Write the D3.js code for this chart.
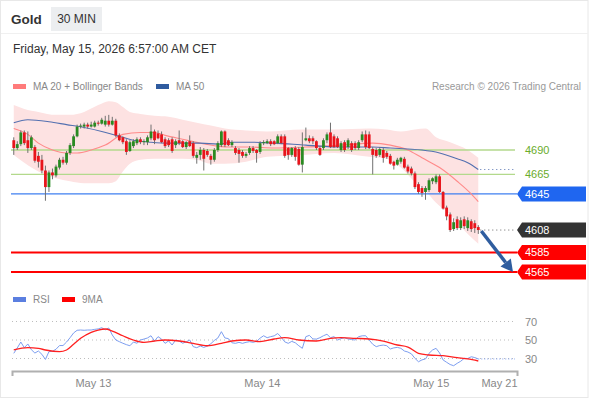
<!DOCTYPE html>
<html><head><meta charset="utf-8">
<script src="https://cdn.jsdelivr.net/npm/d3@7"></script>
<style>
html,body{margin:0;padding:0;background:#fff;}
svg{display:block;font-family:"Liberation Sans",Arial,sans-serif;}
</style></head><body>
<svg id="c" width="590" height="400"></svg>
<script>
// ---- DATA (30-min candles, slot 0 = May 12 12:30 CET) ----
const opens=[4700,4692,4696,4708,4700,4692,4693,4684,4680,4669,
4652,4667,4664,4672,4680,4677,4687,4694,4704,4714,
4714,4716,4714,4714,4718,4717,4716,4720,4716,4720,
4705,4703,4699,4689,4694,4697,4701,4698,4698,4702,
4709,4707,4706,4701,4700,4701,4695,4700,4699,4693,
4699,4697,4682,4685,4690,4689,4684,4680,4690,4695,
4709,4700,4695,4692,4690,4688,4684,4687,4692,4690,
4688,4697,4697,4699,4699,4697,4704,4704,4692,4685,
4692,4691,4675,4700,4702,4702,4699,4692,4692,4700,
4708,4704,4702,4690,4698,4693,4697,4697,4692,4700,
4706,4706,4691,4690,4685,4690,4687,4684,4678,4675,
4678,4681,4673,4671,4666,4655,4651,4647,4649,4658,
4657,4663,4647,4631,4624,4609,4619,4610,4619,4610,
4617,4615,4611];
const closes=[4692,4696,4708,4697,4692,4703,4679,4678,4669,4652,
4667,4664,4673,4680,4677,4687,4695,4704,4714,4715,
4716,4714,4716,4718,4717,4721,4720,4716,4720,4705,
4700,4698,4688,4698,4699,4701,4698,4699,4703,4709,
4700,4702,4698,4694,4695,4689,4699,4697,4693,4698,
4694,4684,4685,4690,4681,4685,4680,4690,4697,4709,
4695,4695,4698,4687,4686,4684,4686,4692,4689,4687,
4697,4698,4699,4696,4696,4704,4697,4684,4685,4692,
4683,4675,4693,4702,4699,4699,4692,4685,4700,4706,
4693,4693,4693,4697,4690,4700,4690,4692,4698,4706,
4693,4692,4685,4684,4691,4682,4683,4676,4674,4680,
4682,4672,4668,4666,4652,4647,4646,4651,4659,4661,
4663,4647,4630,4622,4608,4616,4610,4618,4612,4618,
4609,4610,4608];
const highs=[4703,4699,4710,4710,4709,4705,4695,4688,4685,4674,
4669,4671,4675,4682,4683,4689,4697,4706,4716,4717,
4718,4718,4719,4720,4720,4723,4725,4726,4724,4722,
4707,4704,4701,4700,4701,4703,4703,4701,4705,4716,
4711,4710,4709,4703,4702,4703,4701,4710,4700,4699,
4705,4699,4688,4693,4692,4691,4686,4692,4699,4710,
4710,4702,4700,4694,4692,4690,4688,4694,4694,4691,
4699,4700,4701,4701,4700,4706,4706,4706,4693,4693,
4694,4693,4708,4713,4705,4704,4700,4694,4702,4708,
4718,4706,4704,4699,4700,4702,4699,4699,4700,4709,
4710,4709,4693,4692,4693,4692,4689,4686,4679,4682,
4683,4683,4675,4673,4668,4657,4653,4653,4661,4662,
4665,4665,4648,4633,4626,4620,4622,4621,4622,4621,
4619,4618,4613];
const lows=[4685,4690,4694,4695,4687,4690,4677,4672,4666,4638,
4647,4660,4662,4670,4675,4675,4685,4692,4703,4712,
4712,4712,4713,4713,4715,4716,4714,4714,4715,4703,
4699,4696,4685,4688,4692,4695,4696,4695,4695,4700,
4696,4701,4697,4692,4693,4687,4692,4695,4692,4691,
4693,4682,4676,4680,4669,4683,4675,4678,4688,4693,
4693,4694,4693,4685,4677,4682,4682,4685,4687,4677,
4686,4695,4696,4694,4695,4696,4696,4682,4680,4683,
4679,4674,4667,4699,4697,4696,4690,4684,4690,4697,
4692,4692,4692,4688,4688,4691,4688,4690,4690,4698,
4691,4691,4665,4682,4683,4677,4681,4675,4670,4674,
4676,4671,4666,4664,4650,4645,4642,4639,4647,4655,
4655,4646,4629,4618,4606,4607,4608,4608,4609,4607,
4606,4605,4604];

// Bollinger bands (MA 20 +/- 2sd) read at sample slots
const bandSlots=[0,3,7,12,16,20,24,27,29,31,33,36,40,44,48,52,56,60,66,72,82,91,101,106,110,114,117,120,124,129,132];
const bandUpper=[4736,4732,4729,4726,4726,4729,4736,4740,4739,4734,4729,4727,4725,4724,4721,4718,4715,4712,4710,4709,4711,4711,4712,4711,4709,4711,4712,4703,4698,4690,4682];
const bandLower=[4685,4677,4668,4661,4658,4656,4656,4656,4658,4668,4676,4680,4681,4681,4681,4680,4676,4676,4678,4683,4685,4687,4683,4681,4672,4657,4648,4636,4624,4604,4594];
const ma20Slots=[0,4,7,11,15,18,22,26,31,36,40,43,48,53,58,62,67,74,83,93,102,107,112,116,121,126,130,132];
const ma20Vals=[4712,4706,4697,4690,4687,4687,4690,4695,4706,4708,4708,4705,4701,4697,4694,4693,4693,4692,4693,4695,4697,4695,4690,4682,4672,4658,4645,4637];
const ma50Slots=[0,4,10,15,20,25,29,34,39,44,48,53,58,62,67,74,83,93,102,107,112,116,121,126,129,132];
const ma50Vals=[4718,4721,4719,4716,4713,4709,4705,4700,4698,4697,4697,4697,4696,4698,4698,4697,4695,4693,4693,4692,4691,4690,4687,4681,4677,4670];

// RSI (one value per candle) and its 9-period MA (read at sample slots)
const rsi=[35.6,41.4,47.8,41.7,45.7,39.5,35.9,38.1,34.5,29,
37.4,37.8,40,44,44,47.8,52.5,57.6,60.5,60.8,
60.5,60.8,60.8,61.5,62,63.3,61,63,55.4,50,
48.2,46.5,45,43.8,47.8,46.5,50,51,52.2,54.6,
48.9,53.6,51,46.4,49,44.6,50,48.9,46.5,48,
50,42.8,41.7,43.5,42,43.5,46,49.5,52.2,59,
52.2,51.5,47,46.4,47.5,46.4,47.5,48.2,47.5,48.5,
52,54.6,52.5,53.6,54.5,57,53,48,46.4,48.5,
47,43.8,41,53.6,55,51.1,51,52.5,54.6,56.2,
52.5,53.6,50,51.5,52.5,51.1,50.5,50,53.6,54.5,
54.6,50,45.4,42.8,44,44.5,43.8,40.3,41.5,42,
41,38.1,37,35,30.2,26.5,28.5,29.5,35.6,39.2,
41,36,28.4,25.9,23.5,22.2,24.8,27,30.2,30,
31.9,31,29.5];
const ma9Slots=[0,4,7,9,13,15,17,19,22,24,26,28,31,34,37,40,43,47,51,55,59,62,66,70,74,77,81,86,90,93,97,101,105,109,112,115,118,122,126,129,132];
const ma9Vals=[39.2,41.7,41,39.2,37.4,39.2,45.4,51.8,58.3,60.8,61.9,59.7,54.6,50,47.5,48.9,50,48.9,46.4,43.8,46.4,48.9,50,48.2,51.1,52.5,50,48.9,51.8,52.5,51.8,51.1,48.9,44.6,42.4,35.6,33.8,33,30.9,29.5,27.3];

// levels and axis labels
const greenLevels=[4690,4665];
const supportLevels=[4585,4565];
const pivotLevel=4645;
const lastPrice=4608;
const rsiTicks=[70,50,30];
const xTickSlots=[23,71,119,143.5];
const xTickLabels=["May 13","May 14","May 15","May 21"];

// ---- DRAW ----
const svg=d3.select("#c");
const x=d3.scaleLinear().domain([0,143.5]).range([12,517]);
const y=d3.scaleLinear().domain([4565,4690]).range([272,150]);
const yr=d3.scaleLinear().domain([30,70]).range([358.5,321.5]);
const cx=i=>x(i+0.5);
const lastIdx=closes.length-1;

svg.append("rect").attr("x",0.5).attr("y",0.5).attr("width",587.5).attr("height",397)
  .attr("fill","#fff").attr("stroke","#e8e8e8");
svg.append("line").attr("x1",1).attr("x2",588).attr("y1",33.5).attr("y2",33.5).attr("stroke","#f0f0f0");

// header
svg.append("text").attr("x",11).attr("y",24).attr("font-size",13.5).attr("font-weight","bold").attr("fill","#333").text("Gold");
svg.append("rect").attr("x",51).attr("y",7).attr("width",51).attr("height",24).attr("fill","#eceef0");
svg.append("text").attr("x",76.5).attr("y",23).attr("text-anchor","middle").attr("font-size",12).attr("fill","#333").text("30 MIN");
svg.append("text").attr("x",13).attr("y",53).attr("font-size",12).attr("fill","#333").text("Friday, May 15, 2026 6:57:00 AM CET");

// legends
function legend(xs,yy,col,label){
  svg.append("rect").attr("x",xs).attr("y",yy-2.5).attr("width",13).attr("height",5).attr("fill",col);
  svg.append("text").attr("x",xs+20).attr("y",yy+3.5).attr("font-size",10).attr("fill","#888").text(label);
}
legend(13,86.5,"#ff7b7b","MA 20 + Bollinger Bands");
legend(156,86.5,"#2f5b9f","MA 50");
svg.append("text").attr("x",581).attr("y",90).attr("text-anchor","end").attr("font-size",10).attr("fill","#999").text("Research \u00a9 2026 Trading Central");
legend(13,299.5,"#5b7fe0","RSI");
legend(62,299.5,"#ff0000","9MA");

// bands
const band=bandSlots.map((s,i)=>({s,u:bandUpper[i],l:bandLower[i]}));
svg.append("path").datum(band)
  .attr("d",d3.area().x(d=>cx(d.s)).y0(d=>y(d.l)).y1(d=>y(d.u)).curve(d3.curveMonotoneX))
  .attr("fill","#fde2e2");

// level lines
greenLevels.forEach(v=>{
  svg.append("line").attr("x1",11).attr("x2",515).attr("y1",y(v)).attr("y2",y(v)).attr("stroke","#b3d98c").attr("stroke-width",1.3);
  svg.append("text").attr("x",525).attr("y",y(v)+4).attr("font-size",11).attr("fill","#6aac2a").text(v);
});
svg.append("line").attr("x1",11).attr("x2",517).attr("y1",y(pivotLevel)).attr("y2",y(pivotLevel)).attr("stroke","#3f7ff0").attr("stroke-width",1.4);
supportLevels.forEach(v=>{
  svg.append("line").attr("x1",11).attr("x2",517).attr("y1",y(v)).attr("y2",y(v)).attr("stroke","#f00").attr("stroke-width",2);
});

// MA lines
const ma20=ma20Slots.map((s,i)=>({s,v:ma20Vals[i]}));
const ma50=ma50Slots.map((s,i)=>({s,v:ma50Vals[i]}));
const ln=d3.line().x(d=>cx(d.s)).y(d=>y(d.v)).curve(d3.curveMonotoneX);
svg.append("path").datum(ma20).attr("d",ln).attr("fill","none").attr("stroke","#ff8a8a").attr("stroke-width",1.1);
svg.append("path").datum(ma50).attr("d",ln).attr("fill","none").attr("stroke","#5370b0").attr("stroke-width",1.1);
svg.append("line").attr("x1",cx(lastIdx)+2).attr("x2",515).attr("y1",y(ma50Vals[ma50Vals.length-1])).attr("y2",y(ma50Vals[ma50Vals.length-1]))
  .attr("stroke","#5370b0").attr("stroke-dasharray","1,3");

// candles
const cd=opens.map((o,i)=>({i,o,c:closes[i],h:highs[i],l:lows[i]}));
const g=svg.append("g");
g.selectAll("line.w").data(cd).enter().append("line")
  .attr("x1",d=>cx(d.i)).attr("x2",d=>cx(d.i))
  .attr("y1",d=>y(Math.max(d.h,d.o,d.c))).attr("y2",d=>y(Math.min(d.l,d.o,d.c)))
  .attr("stroke","#707070").attr("stroke-width",1);
g.selectAll("rect.b").data(cd).enter().append("rect")
  .attr("x",d=>cx(d.i)-1.4).attr("width",2.8)
  .attr("y",d=>y(Math.max(d.o,d.c)))
  .attr("height",d=>Math.max(1,Math.abs(y(d.o)-y(d.c))))
  .attr("fill",d=>d.c>=d.o?"#2a8a22":"#e8141b");

// last price dotted
svg.append("line").attr("x1",cx(lastIdx)+2).attr("x2",515).attr("y1",y(lastPrice)).attr("y2",y(lastPrice))
  .attr("stroke","#666").attr("stroke-dasharray","1,3");

// tags
function tag(v,col,txt){
  const yc=y(v);
  svg.append("polygon").attr("points",[[517,yc],[522,yc-7.5],[586,yc-7.5],[586,yc+7.5],[522,yc+7.5]].map(p=>p.join(",")).join(" "))
    .attr("fill",col);
  svg.append("text").attr("x",525).attr("y",yc+4).attr("font-size",11).attr("fill","#fff").text(txt);
}
tag(pivotLevel,"#1f66f0",pivotLevel);
tag(lastPrice,"#333333",lastPrice);
supportLevels.forEach(v=>tag(v,"#ff0000",v));

// arrow
const ax1=cx(lastIdx)+3, ay1=y(lastPrice)+1, ax2=x(143.5)-4, ay2=y(supportLevels[1]);
const dx=ax2-ax1, dy=ay2-ay1, L=Math.hypot(dx,dy), ux=dx/L, uy=dy/L;
const bx=ax2-ux*12, by=ay2-uy*12;
svg.append("line").attr("x1",ax1).attr("y1",ay1).attr("x2",bx).attr("y2",by).attr("stroke","#2f5d9f").attr("stroke-width",3.5);
svg.append("polygon").attr("points",[[ax2,ay2],[bx-uy*6.5,by+ux*6.5],[bx+uy*6.5,by-ux*6.5]].map(p=>p.join(",")).join(" ")).attr("fill","#2f5d9f");

// RSI panel
rsiTicks.forEach(v=>{
  svg.append("line").attr("x1",12).attr("x2",515).attr("y1",yr(v)).attr("y2",yr(v)).attr("stroke","#bdbdbd").attr("stroke-dasharray","1,3");
  svg.append("text").attr("x",525).attr("y",yr(v)+4).attr("font-size",11).attr("fill","#888").text(v);
});
svg.append("path").datum(rsi).attr("d",d3.line().x((d,i)=>cx(i)).y(d=>yr(d)))
  .attr("fill","none").attr("stroke","#7d9ef0").attr("stroke-width",1);
svg.append("line").attr("x1",cx(lastIdx)).attr("x2",515).attr("y1",yr(rsi[lastIdx])).attr("y2",yr(rsi[lastIdx]))
  .attr("stroke","#7d9ef0").attr("stroke-dasharray","1,2");
const ma9=ma9Slots.map((s,i)=>({s,v:ma9Vals[i]}));
svg.append("path").datum(ma9).attr("d",d3.line().x(d=>cx(d.s)).y(d=>yr(d.v)).curve(d3.curveMonotoneX))
  .attr("fill","none").attr("stroke","#ff2020").attr("stroke-width",1.3);

// x axis
const ax=svg.append("g").attr("transform","translate(0,371)")
  .call(d3.axisBottom(x).tickValues(xTickSlots).tickFormat((d,i)=>xTickLabels[i]).tickSizeInner(0).tickSizeOuter(5).tickPadding(8));
ax.select(".domain").attr("stroke","#b0b0b0").attr("stroke-width",2);
ax.selectAll("text").attr("font-size",11).attr("fill","#888").attr("font-family","Liberation Sans, Arial, sans-serif");
ax.selectAll(".tick").filter((d,i)=>i===xTickSlots.length-1).select("text").attr("text-anchor","end");
</script>
</body></html>
